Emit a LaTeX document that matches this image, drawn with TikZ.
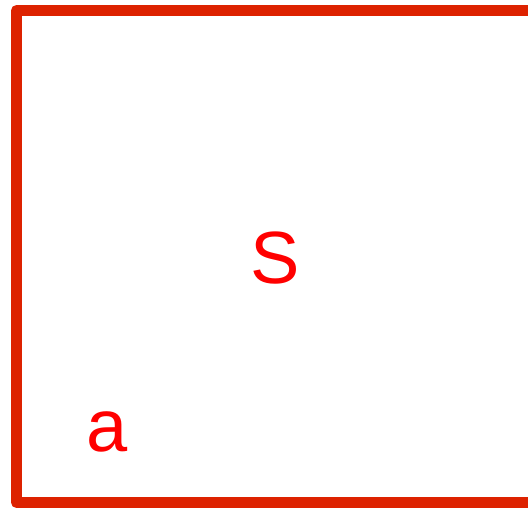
\documentclass[tikz,border=0pt]{standalone}
\usepackage{fontspec}
\setmainfont{Liberation Sans}
\usetikzlibrary{positioning}
\definecolor{frameedge}{RGB}{221,34,0}
\definecolor{labelred}{RGB}{255,0,0}
\tikzset{
  frame/.style={draw=frameedge, line width=11pt, line join=round},
  lbl/.style={text=labelred, inner sep=0pt, font=\fontsize{74}{80}\selectfont}
}
\begin{document}
\begin{tikzpicture}[x=1pt,y=1pt]
  \useasboundingbox (0,0) rectangle (528,509);
  \clip (0,0) rectangle (528,509);
  % open frame, right side runs off the page
  \coordinate (tr) at (545,498.5);
  \coordinate (tl) at (16.5,498.5);
  \coordinate (bl) at (16.5,6.5);
  \coordinate (br) at (545,6.5);
  \draw[frame] (tr) -- (tl) -- (bl) -- (br);
  \node[lbl] (s) at (275,251) {S};
  \node[lbl] (a) at (107,77) {a};
\end{tikzpicture}
\end{document}
